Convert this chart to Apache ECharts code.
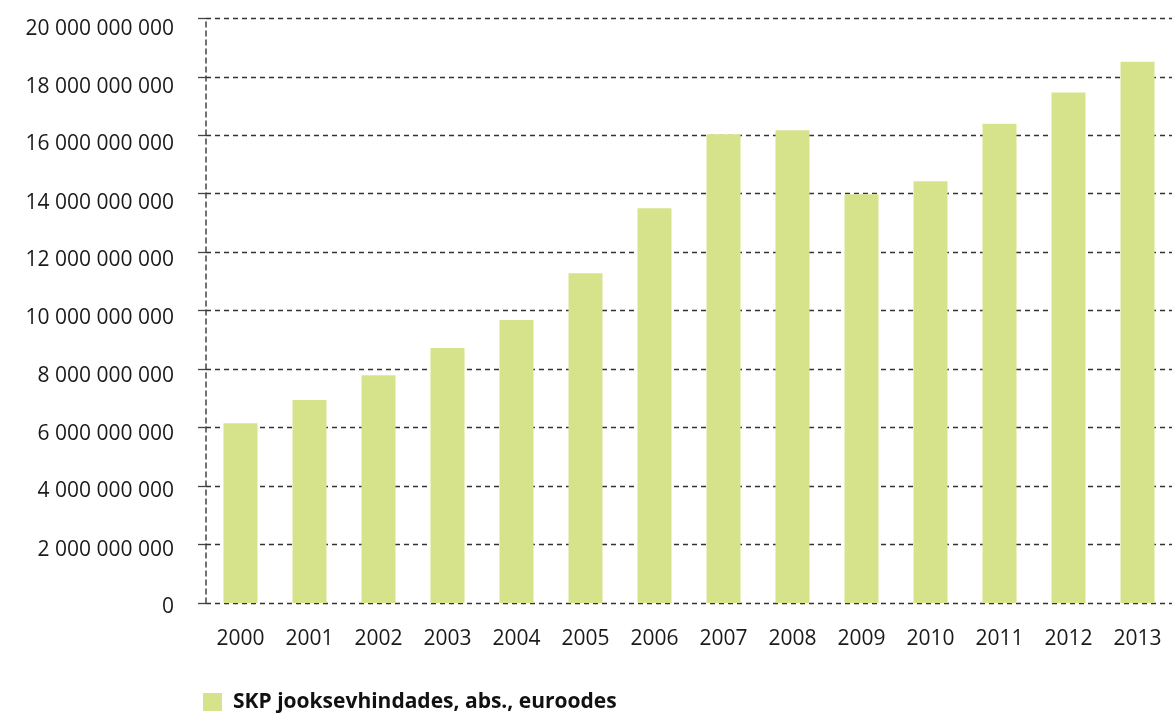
<!DOCTYPE html>
<html>
<head>
<meta charset="utf-8">
<script src="https://cdn.jsdelivr.net/npm/echarts@6/dist/echarts.min.js"></script>
<style>
html,body{margin:0;padding:0;background:#fff;}
#chart{width:1175px;height:715px;}
</style>
</head>
<body>
<div id="chart"></div>
<script>
const categories = ['2000','2001','2002','2003','2004','2005','2006','2007','2008','2009','2010','2011','2012','2013'];
const seriesName = 'SKP jooksevhindades, abs., euroodes';
const gdpValues = [6150000000, 6940000000, 7790000000, 8720000000, 9680000000, 11280000000, 13500000000, 16030000000, 16170000000, 13980000000, 14430000000, 16390000000, 17460000000, 18510000000];

function fmt(v){
  return String(Math.round(v)).replace(/\B(?=(\d{3})+(?!\d))/g, ' ');
}
// labels in the reference sit slightly below their gridlines (more at the top)
const rich = {};
for (let i = 0; i <= 10; i++) {
  const off = Math.round(4 + 6.5 * i / 10);
  rich['r' + i] = {fontFamily:'Open Sans', fontSize:21, color:'#1a1a1a', padding:[off*2,0,0,0]};
}
function yLabel(v){
  const i = Math.round(v / 2000000000);
  return '{r' + i + '|' + fmt(v) + '}';
}

const chart = echarts.init(document.getElementById('chart'), null, {renderer:'canvas'});
chart.setOption({
  animation:false,
  backgroundColor:'#ffffff',
  grid:{left:206, right:3, top:18.3, bottom:112, containLabel:false},
  legend:{
    data:[seriesName],
    left:203, top:690, padding:0,
    itemWidth:19, itemHeight:18, itemGap:10,
    icon:'rect',
    textStyle:{fontFamily:'Open Sans', fontWeight:'bold', fontSize:21, lineHeight:24, color:'#111', padding:[0,0,0,6]}
  },
  xAxis:{
    type:'category',
    data:categories,
    axisLine:{show:false},
    axisTick:{show:false},
    axisLabel:{fontFamily:'Open Sans', fontSize:21, color:'#1a1a1a', margin:26, interval:0}
  },
  yAxis:{
    type:'value',
    min:0, max:20000000000, interval:2000000000,
    axisLine:{show:true, lineStyle:{color:'#444', type:[5,4], width:1.5}},
    axisTick:{show:true, length:8, lineStyle:{color:'#444', width:1.3}},
    splitLine:{show:true, lineStyle:{color:'#333', type:[5,4], width:1.3}},
    axisLabel:{margin:32, formatter:yLabel, rich:rich}
  },
  series:[{
    name:seriesName,
    type:'bar',
    data:gdpValues,
    barWidth:34,
    itemStyle:{color:'#d7e38b'}
  }]
});
</script>
</body>
</html>
